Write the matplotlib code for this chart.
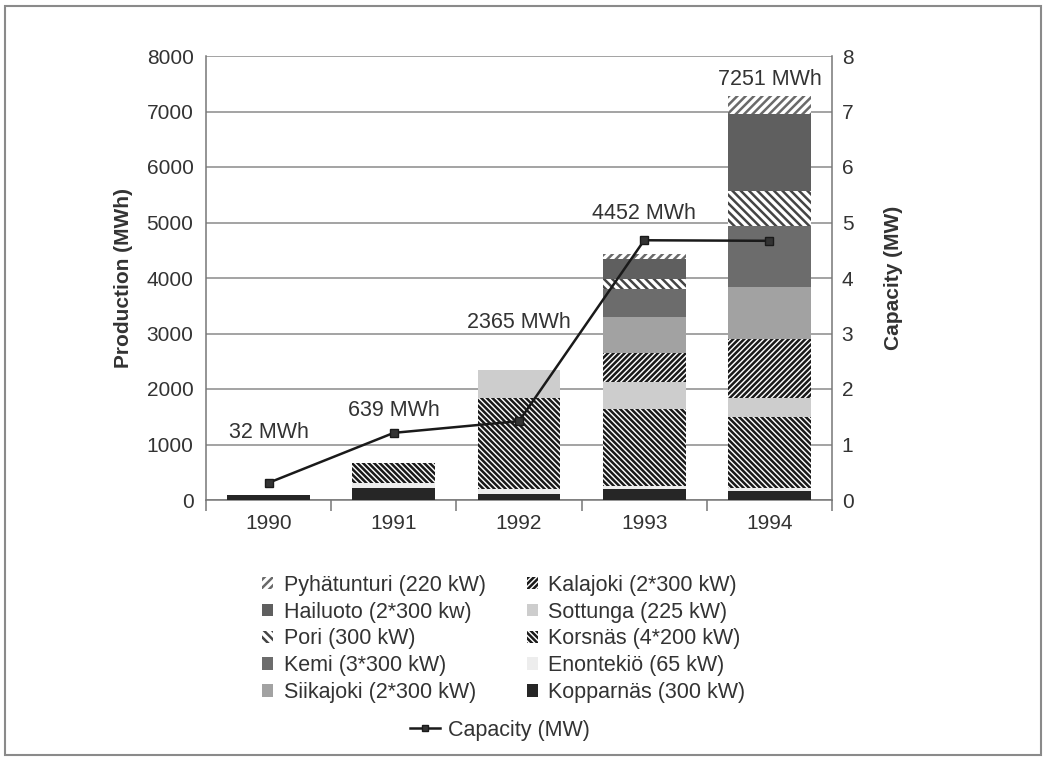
import numpy as np
import matplotlib
matplotlib.use("Agg")
from matplotlib import pyplot as plt
from matplotlib.patches import Rectangle
from matplotlib.lines import Line2D

plt.rcParams['font.family'] = ['Liberation Sans', 'DejaVu Sans']
plt.rcParams['hatch.linewidth'] = 1.8

years = ['1990', '1991', '1992', '1993', '1994']

# production per site (MWh), stacked bottom -> top
kopparnas = [90, 210, 105, 195, 160]
enontekio = [0, 105, 90, 55, 55]
korsnas = [0, 360, 1640, 1385, 1280]
sottunga = [0, 0, 505, 485, 340]
kalajoki = [0, 0, 0, 520, 1060]
siikajoki = [0, 0, 0, 665, 935]
kemi = [0, 0, 0, 505, 1115]
pori = [0, 0, 0, 180, 630]
hailuoto = [0, 0, 0, 360, 1385]
pyhatunturi = [0, 0, 0, 90, 325]

capacity = [0.31, 1.21, 1.42, 4.68, 4.67]
totals_txt = ['32 MWh', '639 MWh', '2365 MWh', '4452 MWh', '7251 MWh']
label_y = [1225, 1620, 3190, 5170, 7585]

series = [
    ('Kopparnäs (300 kW)', kopparnas, '#262626', None),
    ('Enontekiö (65 kW)', enontekio, '#ededed', None),
    ('Korsnäs (4*200 kW)', korsnas, 'white', '\\' * 6),
    ('Sottunga (225 kW)', sottunga, '#cdcdcd', None),
    ('Kalajoki (2*300 kW)', kalajoki, 'white', '/' * 6),
    ('Siikajoki (2*300 kW)', siikajoki, '#a2a2a2', None),
    ('Kemi (3*300 kW)', kemi, '#6c6c6c', None),
    ('Pori (300 kW)', pori, 'white', '\\' * 4),
    ('Hailuoto (2*300 kw)', hailuoto, '#5f5f5f', None),
    ('Pyhätunturi (220 kW)', pyhatunturi, 'white', '/' * 4),
]
hatch_col = {'Korsnäs (4*200 kW)': '#1a1a1a', 'Kalajoki (2*300 kW)': '#1a1a1a',
             'Pori (300 kW)': '#444444', 'Pyhätunturi (220 kW)': '#6a6a6a'}

fig = plt.figure(figsize=(10.44, 7.61), dpi=100)
ax = fig.add_axes([206 / 1044, 1 - 500 / 761, 626 / 1044, 444 / 761])
x = np.arange(len(years))

handles = {}
bottom = np.zeros(len(years))
for name, vals, color, hatch in series:
    vals = np.array(vals, dtype=float)
    if hatch:
        bars = ax.bar(x, vals, 0.66, bottom=bottom, color=color,
                      edgecolor=hatch_col[name], linewidth=0, hatch=hatch, zorder=3)
    else:
        bars = ax.bar(x, vals, 0.66, bottom=bottom, color=color,
                      linewidth=0, zorder=3)
    handles[name] = bars
    bottom += vals

ax.set_xlim(-0.5, 4.5)
ax.set_ylim(0, 8000)
ax.set_yticks(np.arange(0, 8001, 1000))
ax.grid(axis='y', color='#8a8a8a', linewidth=1.1, zorder=0)
ax.set_xticks(np.arange(-0.5, 4.6, 1))
ax.set_xticklabels([])
ax.set_xticks(x, minor=True)
ax.set_xticklabels(years, minor=True)
ax.tick_params(axis='x', which='major', length=8, width=1.1, color='#777777', direction='out')
ax.tick_params(axis='x', which='minor', length=0, pad=10, labelsize=15, labelcolor='#333333')
ax.tick_params(axis='y', length=0, pad=9, labelsize=15, labelcolor='#333333')
for s in ['left', 'right', 'bottom']:
    ax.spines[s].set_color('#777777')
    ax.spines[s].set_linewidth(1.1)
ax.spines['top'].set_visible(False)
ax.set_ylabel('Production (MWh)', fontsize=15, fontweight='bold', color='#333333', labelpad=10)

for i, t in enumerate(totals_txt):
    ax.text(x[i], label_y[i], t, ha='center', va='center', fontsize=15.5, color='#333333', zorder=6)

ax2 = ax.twinx()
ax2.set_ylim(0, 8)
ax2.set_yticks(np.arange(0, 9, 1))
ax2.tick_params(axis='y', length=0, pad=7, labelsize=15, labelcolor='#333333')
for s in ax2.spines.values():
    s.set_visible(False)
ax2.plot(x, capacity, color='#1a1a1a', linewidth=1.8, marker='s', markersize=6,
         markerfacecolor='#333333', markeredgecolor='#1a1a1a', zorder=5)
ax2.set_ylabel('Capacity (MW)', fontsize=15, fontweight='bold', color='#333333', labelpad=22)

legend_order = ['Pyhätunturi (220 kW)', 'Hailuoto (2*300 kw)', 'Pori (300 kW)', 'Kemi (3*300 kW)',
                'Siikajoki (2*300 kW)', 'Kalajoki (2*300 kW)', 'Sottunga (225 kW)',
                'Korsnäs (4*200 kW)', 'Enontekiö (65 kW)', 'Kopparnäs (300 kW)']
leg = fig.legend([handles[n] for n in legend_order], legend_order, ncol=2,
                 loc='upper center', bbox_to_anchor=(504 / 1044, 1 - 564 / 761),
                 frameon=False, fontsize=15.5, handlelength=0.5, handleheight=0.5,
                 handletextpad=0.5, columnspacing=1.9, labelspacing=0.27,
                 labelcolor='#333333', borderpad=0)

cap_handle = Line2D([], [], color='#1a1a1a', linewidth=1.8, marker='s', markersize=5,
                    markerfacecolor='#333333')
fig.legend([cap_handle], ['Capacity (MW)'], loc='upper center',
           bbox_to_anchor=(500 / 1044, 1 - 709 / 761), frameon=False, fontsize=15.5,
           handlelength=1.4, handletextpad=0.4, labelcolor='#333333', borderpad=0)

# outer frame of the scanned page
fig.patches.append(Rectangle((5 / 1044, 1 - 755 / 761), 1036 / 1044, 749 / 761,
                             transform=fig.transFigure, fill=False,
                             edgecolor='#8a8a8a', linewidth=1.5))

fig.savefig('out.png', dpi=100)
